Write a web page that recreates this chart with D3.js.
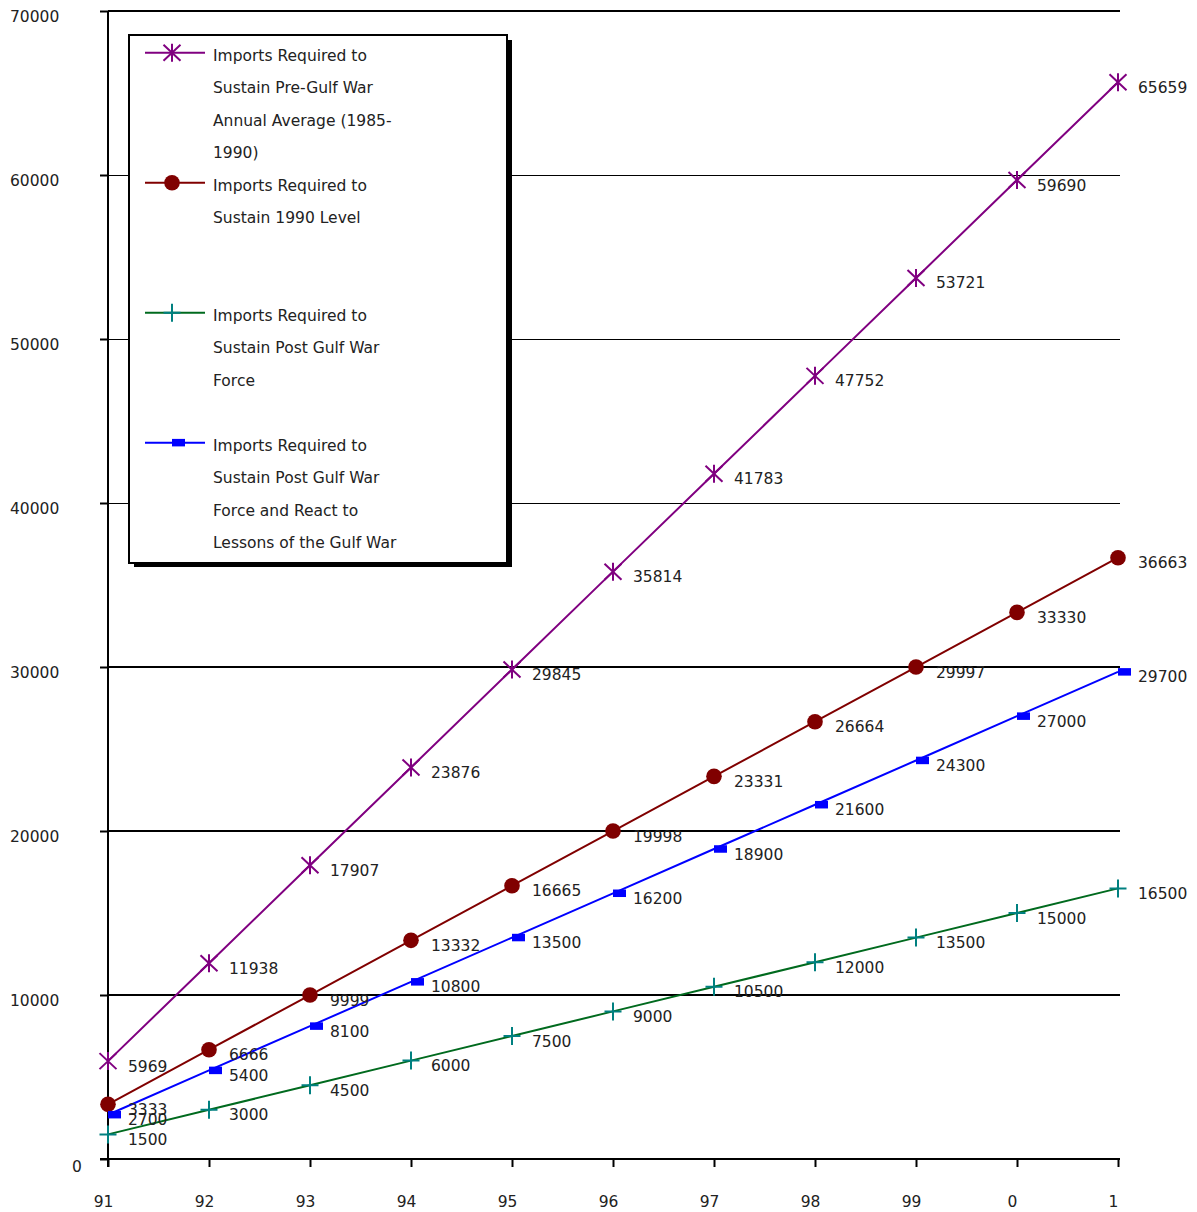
<!DOCTYPE html>
<html>
<head>
<meta charset="utf-8">
<script src="https://cdn.jsdelivr.net/npm/d3@7/dist/d3.min.js"></script>
<style>
  html, body { margin: 0; padding: 0; background: #fff; }
  svg { display: block; }
  text { font-family: "DejaVu Sans", Verdana, sans-serif; font-size: 15.5px; fill: #222; }
</style>
</head>
<body>
<svg id="chart" width="1197" height="1212"></svg>
<script>
const categories = ["91","92","93","94","95","96","97","98","99","0","1"];
const preGulfAvg   = [5969, 11938, 17907, 23876, 29845, 35814, 41783, 47752, 53721, 59690, 65659];
const level1990    = [3333, 6666, 9999, 13332, 16665, 19998, 23331, 26664, 29997, 33330, 36663];
const postGulfForce = [1500, 3000, 4500, 6000, 7500, 9000, 10500, 12000, 13500, 15000, 16500];
const postGulfLessons = [2700, 5400, 8100, 10800, 13500, 16200, 18900, 21600, 24300, 27000, 29700];
const yTicks = [0, 10000, 20000, 30000, 40000, 50000, 60000, 70000];
const legendLabels = [
  ["Imports Required to", "Sustain Pre-Gulf War", "Annual Average (1985-", "1990)"],
  ["Imports Required to", "Sustain 1990 Level"],
  ["Imports Required to", "Sustain Post Gulf War", "Force"],
  ["Imports Required to", "Sustain Post Gulf War", "Force and React to", "Lessons of the Gulf War"]
];

const series = [
  { values: preGulfAvg, line: "#800080", mark: "star", markColor: "#800080" },
  { values: level1990, line: "#800000", mark: "circle", markColor: "#800000" },
  { values: postGulfForce, line: "#006a1e", mark: "plus", markColor: "#008080" },
  { values: postGulfLessons, line: "#0000ff", mark: "square", markColor: "#0000ff" }
];

const svg = d3.select("#chart");
const x = d3.scalePoint().domain(categories).range([108, 1118]);
const y = d3.scaleLinear().domain([0, 70000]).range([1159, 11]);

// gridlines
svg.append("g").attr("shape-rendering", "crispEdges")
  .selectAll("line").data(yTicks.filter(t => t > 0)).join("line")
  .attr("x1", 108).attr("x2", 1120)
  .attr("y1", d => y(d)).attr("y2", d => y(d))
  .attr("stroke", "#000")
  .attr("stroke-width", d => (d >= 40000 && d <= 60000) ? 1 : 2);

// x axis baseline
svg.append("line").attr("x1", 100).attr("x2", 1120).attr("y1", y(0)).attr("y2", y(0))
  .attr("stroke", "#000").attr("stroke-width", 2);

// y axis
const yAxis = svg.append("g").attr("transform", "translate(108,0)")
  .call(d3.axisLeft(y).tickValues(yTicks).tickSize(8).tickFormat(d3.format("d")));
yAxis.select(".domain").remove();
yAxis.selectAll(".tick line").attr("stroke", "#000").attr("stroke-width", 2);
yAxis.selectAll(".tick text")
  .attr("text-anchor", "start")
  .attr("font-family", null).attr("font-size", null)
  .attr("x", d => d === 0 ? -36 : -98)
  .attr("dy", null)
  .attr("y", d => d === 0 ? 12.5 : 10.5);
svg.append("line").attr("x1", 108).attr("x2", 108).attr("y1", y(70000)).attr("y2", y(0) + 8)
  .attr("stroke", "#000").attr("stroke-width", 2);

// x axis ticks
const xAxis = svg.append("g").attr("transform", `translate(0,${y(0)})`)
  .call(d3.axisBottom(x).tickSize(8));
xAxis.select(".domain").remove();
xAxis.selectAll(".tick line").attr("stroke", "#000").attr("stroke-width", 2);
xAxis.selectAll(".tick text")
  .attr("font-family", null).attr("font-size", null)
  .attr("dy", null).attr("y", 48).attr("x", -5);

// marker drawing
function drawMarker(g, type, color) {
  if (type === "star") {
    g.append("path").attr("d", "M0,-9L0,9M-8.5,-8L8.5,8M-8.5,8L8.5,-8")
      .attr("stroke", color).attr("stroke-width", 2).attr("fill", "none");
  } else if (type === "circle") {
    g.append("circle").attr("r", 7.8).attr("fill", color);
  } else if (type === "plus") {
    g.append("path").attr("d", "M0,-9L0,9M-8.5,0L8.5,0")
      .attr("stroke", color).attr("stroke-width", 2).attr("fill", "none");
  } else if (type === "square") {
    g.append("rect").attr("x", 0).attr("y", -3.8).attr("width", 13).attr("height", 7.5).attr("fill", color);
  }
}

const lineGen = d3.line().x((d, i) => x(categories[i])).y(d => y(d));

series.forEach(s => {
  svg.append("path").datum(s.values).attr("d", lineGen)
    .attr("fill", "none").attr("stroke", s.line).attr("stroke-width", 2);
});
series.forEach(s => {
  s.values.forEach((v, i) => {
    const g = svg.append("g").attr("transform", `translate(${x(categories[i])},${y(v)})`);
    drawMarker(g, s.mark, s.markColor);
  });
});
series.forEach(s => {
  svg.append("g").selectAll("text").data(s.values).join("text")
    .attr("x", (d, i) => x(categories[i]) + 20)
    .attr("y", d => y(d) + 10.5)
    .text(d => d);
});

// legend
const lg = svg.append("g");
lg.append("rect").attr("x", 134).attr("y", 40).attr("width", 378).attr("height", 527).attr("fill", "#000");
lg.append("rect").attr("x", 129).attr("y", 35).attr("width", 378).attr("height", 528)
  .attr("fill", "#fff").attr("stroke", "#000").attr("stroke-width", 2);
series.forEach((s, i) => {
  const top = 55.7 + 130 * i;
  lg.append("line").attr("x1", 145).attr("x2", 205).attr("y1", top - 3).attr("y2", top - 3)
    .attr("stroke", s.line).attr("stroke-width", 2);
  const g = lg.append("g").attr("transform", `translate(172,${top - 3})`);
  drawMarker(g, s.mark, s.markColor);
  lg.append("g").selectAll("text").data(legendLabels[i]).join("text")
    .attr("x", 213).attr("y", (d, j) => top + 5.5 + j * 32.2)
    .text(d => d);
});
</script>
</body>
</html>
